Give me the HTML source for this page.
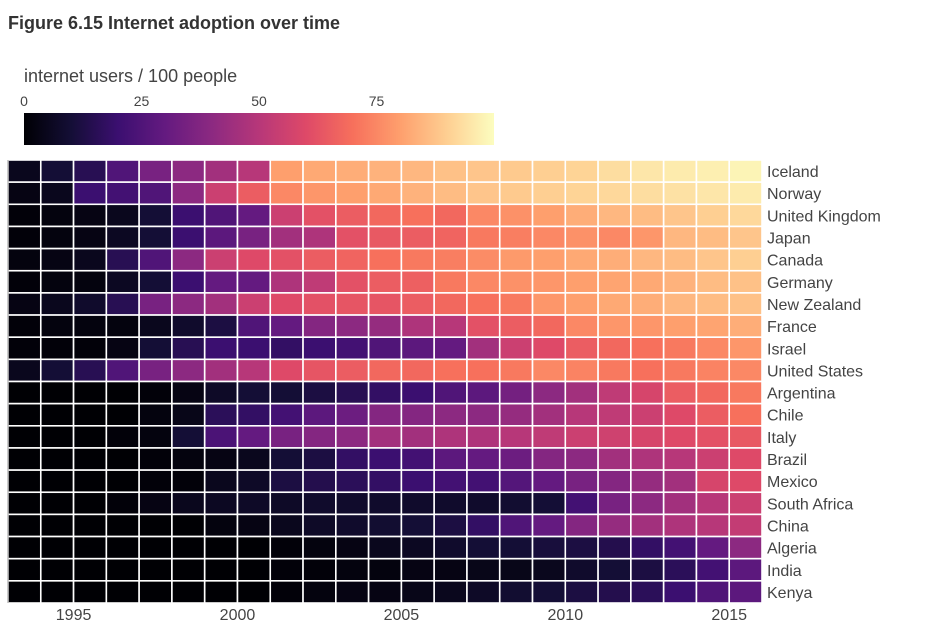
<!DOCTYPE html>
<html><head><meta charset="utf-8"><style>
body{margin:0;background:#fff;font-family:"Liberation Sans",sans-serif}
svg text{font-family:"Liberation Sans",sans-serif}
</style></head><body>
<svg id="chart" width="940" height="626" xmlns="http://www.w3.org/2000/svg">
<text x="8" y="29" font-size="18" font-weight="bold" fill="#333">Figure 6.15 Internet adoption over time</text>
<text x="24" y="82" font-size="18" fill="#444">internet users / 100 people</text>
<defs><linearGradient id="mg" x1="0" x2="1" y1="0" y2="0"></linearGradient></defs>
<rect x="24" y="113" width="470" height="32" fill="url(#mg)"/>
<g id="cbticks"></g>
<g id="cells"></g>
<line x1="8" y1="160" x2="8" y2="603" stroke="#999" stroke-width="1"/>
<g id="ylabels"></g>
<g id="xlabels"></g>
</svg>
<script>
const countries=["Iceland","Norway","United Kingdom","Japan","Canada","Germany","New Zealand","France","Israel","United States","Argentina","Chile","Italy","Brazil","Mexico","South Africa","China","Algeria","India","Kenya"];
const startYear=1993, endYear=2016;
const xTicks=[1995,2000,2005,2010,2015];
const cbTicks=[0,25,50,75];
const vIceland=[5,10,15,25,35,40,45,50,80,82,83,84,85,87,88,89,90,91,93,95,96,97,98];
const vNorway=[3,5,20,22,25,40,55,65,75,78,80,82,84,86,88,89,90,91,92,93,94,95,96];
const vUK=[1,2,3,5,10,20,25,30,55,62,65,68,70,68,75,77,80,83,85,86,88,90,92];
const vJapan=[1,2,3,6,10,20,28,35,45,48,62,64,65,67,72,73,75,77,75,78,85,86,88];
const vCanada=[2,3,5,15,25,40,55,60,62,65,67,70,72,73,76,79,80,82,83,85,86,88,90];
const vGermany=[1,2,2,6,10,20,30,30,48,52,62,65,66,72,75,77,78,80,81,82,84,86,87];
const vNZ=[3,5,8,15,35,40,45,55,60,62,63,63,65,68,70,72,78,80,82,83,85,86,87];
const vFrance=[1,2,2,2,5,8,12,25,30,38,40,42,48,50,62,65,68,75,78,78,80,81,83];
const vIsrael=[1,1,1,3,10,15,20,20,18,20,22,25,28,30,45,55,60,65,68,70,72,75,78];
const vUS=[5,10,15,25,35,40,45,50,60,63,65,68,68,70,70,72,75,74,72,70,72,74,75];
const vArgentina=[0,0,0,0,1,3,7,10,10,12,15,18,20,25,28,34,40,45,52,58,65,68,72];
const vChile=[0,0,0,0,2,4,16,18,22,28,32,38,38,40,40,42,45,50,52,55,60,65,70];
const vItaly=[0,0,0,1,2,10,24,30,35,38,40,45,45,48,48,50,52,55,56,58,60,62,64];
const vBrazil=[0,0,0,0,1,2,3,5,10,12,18,20,22,28,30,32,38,40,45,48,50,55,60];
const vMexico=[0,0,0,0,1,1,5,7,12,14,16,18,20,22,22,26,30,35,38,42,45,58,60];
const vSouthAfrica=[0,0,0,1,3,5,6,7,7,8,8,8,8,8,8,9,10,22,35,40,45,50,55];
const vChina=[0,0,0,0,0,0,2,3,5,7,8,9,10,12,18,25,30,38,42,45,48,50,53];
const vAlgeria=[0,0,0,0,0,0,0,0,1,2,3,5,6,8,10,10,11,12,14,18,22,30,40];
const vIndia=[0,0,0,0,0,0,0,0,1,1,2,2,3,3,4,4,5,8,10,12,16,22,28];
const vKenya=[0,0,0,0,0,0,0,0,1,2,3,3,4,5,7,9,10,12,14,16,20,25,28];
const values=[vIceland,vNorway,vUK,vJapan,vCanada,vGermany,vNZ,vFrance,vIsrael,vUS,vArgentina,vChile,vItaly,vBrazil,vMexico,vSouthAfrica,vChina,vAlgeria,vIndia,vKenya];

const NS="http://www.w3.org/2000/svg";
const stops=["#000004","#140e36","#3b0f70","#641a80","#8c2981","#b73779","#de4968","#f7705c","#fe9f6d","#fecf92","#fcfdbf"];
function hex(h){return [1,3,5].map(i=>parseInt(h.substr(i,2),16));}
function color(v){let t=Math.max(0,Math.min(100,v))/10;let i=Math.min(9,Math.floor(t));let f=t-i;
 const a=hex(stops[i]),b=hex(stops[i+1]);return "rgb("+a.map((c,k)=>Math.round(c+(b[k]-c)*f)).join(",")+")";}
const x0=8,x1=762,y0=160,y1=603;
function xScale(yr){return x0+(yr-startYear)/(endYear-startYear)*(x1-x0);}
const rowH=(y1-y0)/countries.length;
function yScale(i){return y0+i*rowH;}
function cScale(v){return 24+v/100*470;}
const grad=document.getElementById("mg");
stops.forEach((s,i)=>{const st=document.createElementNS(NS,"stop");st.setAttribute("offset",(i*10)+"%");st.setAttribute("stop-color",s);grad.appendChild(st);});
const cb=document.getElementById("cbticks");
cbTicks.forEach(v=>{const t=document.createElementNS(NS,"text");t.setAttribute("x",cScale(v));t.setAttribute("y",106);t.setAttribute("font-size","14");t.setAttribute("fill","#444");t.setAttribute("text-anchor","middle");t.textContent=v;


cb.appendChild(t);});
const cells=document.getElementById("cells");
values.forEach((row,r)=>{row.forEach((v,c)=>{const yr=startYear+c;const rc=document.createElementNS(NS,"rect");
const xa=xScale(yr),xb=xScale(yr+1);
rc.setAttribute("x",xa);rc.setAttribute("y",yScale(r));rc.setAttribute("width",xb-xa);rc.setAttribute("height",rowH);
rc.setAttribute("fill",color(v));rc.setAttribute("stroke","#fff");rc.setAttribute("stroke-width","1.6");


cells.appendChild(rc);});});
const yl=document.getElementById("ylabels");
countries.forEach((c,i)=>{const t=document.createElementNS(NS,"text");t.setAttribute("x",767);t.setAttribute("y",yScale(i)+rowH/2+6);t.setAttribute("font-size","16");t.setAttribute("fill","#444");t.textContent=c;


yl.appendChild(t);});
const xl=document.getElementById("xlabels");
xTicks.forEach(yr=>{const t=document.createElementNS(NS,"text");t.setAttribute("x",xScale(yr));t.setAttribute("y",620);t.setAttribute("font-size","16");t.setAttribute("fill","#444");t.setAttribute("text-anchor","middle");t.textContent=yr;


xl.appendChild(t);});
</script>
</body></html>
